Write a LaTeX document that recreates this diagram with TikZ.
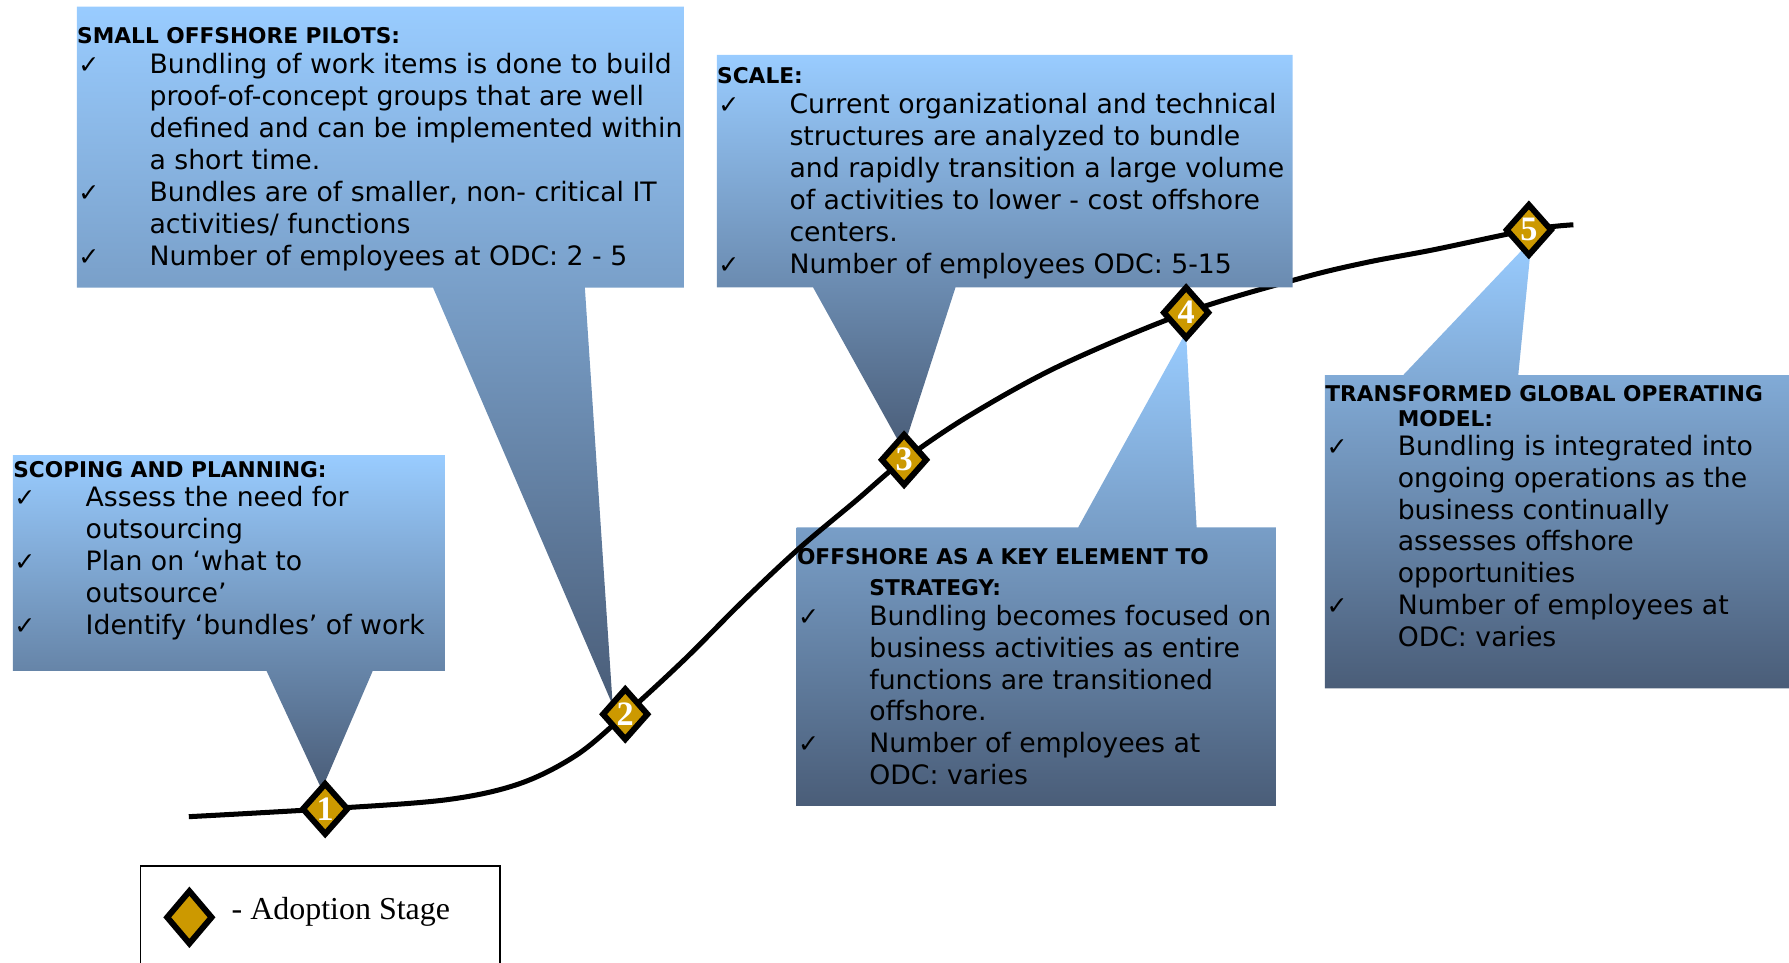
\documentclass[tikz,border=0pt]{standalone}
\usepackage{fontspec}
\setmainfont{DejaVu Sans}
\newfontfamily\numfont{Liberation Serif}
\usetikzlibrary{shapes.geometric}
\definecolor{lightb}{HTML}{99CCFF}
\definecolor{darkb}{HTML}{4A5D78}
\definecolor{goldd}{HTML}{CC9900}
\newlength\myind \setlength\myind{31.7pt}
\newcommand\bodyfnt{\fontsize{11.7}{14}\selectfont}
\newcommand\hdfnt{\fontsize{9.5}{11}\selectfont\bfseries}
\newcommand\myhdA[1]{\hbox{\hdfnt #1}}
\newcommand\myhdB[1]{\hbox{\hspace*{\myind}\hdfnt #1}}
\newcommand\myck[1]{\hbox{\makebox[\myind][l]{\hspace*{0.5pt}{\fontsize{11}{11}\selectfont ✓}}#1}}
\newcommand\myin[1]{\hbox{\hspace*{\myind}#1}}
\newcommand\mybs[1]{\baselineskip=#1pt\relax}
\tikzset{
  callout/.style={top color=lightb, bottom color=darkb},
  boxtext/.style={anchor=base west, inner sep=0pt, font=\bodyfnt},
  stg/.style={shape=diamond, draw=black, line width=2.6pt, fill=goldd,
    minimum width=20.5pt, minimum height=23pt, inner sep=0pt, text=white,
    font=\numfont\bfseries\fontsize{15}{15}\selectfont, line join=miter},
  curve/.style={line width=2.2pt}
}
\begin{document}
\begin{tikzpicture}[x=0.5pt,y=-0.5pt]
\useasboundingbox (0,0) rectangle (1568,844);
% stage positions
\coordinate (p1) at (285,709);
\coordinate (p2) at (548,626);
\coordinate (p3) at (792.4,403);
\coordinate (p4) at (1039.6,274);
\coordinate (p5) at (1340,201.5);
\coordinate (cs) at (165.5,715.8);
\coordinate (ce) at (1379,197);
% callout behind the curve
\shade[callout] (698.2,462.2) -- (945,462.2) -- (1039.5,291) -- (1048.8,462.2) -- (1118.9,462.2) -- (1118.9,706.4) -- (698.2,706.4) -- cycle;
% curve
\draw[curve] plot[smooth, tension=0.55] coordinates {(cs) (p1) (391,701) (455,687) (505,662) (p2) (600,578) (650,528) (700,481) (750,439) (p3) (850,364) (930,320) (p4) (1139.4,244) (1197.8,230) (1256,219) (p5) (ce)};
% other callouts
\shade[callout] (67.3,5.8) -- (600,5.8) -- (600,252) -- (512.6,252) -- (537,618) -- (379.5,252) -- (67.3,252) -- cycle;
\shade[callout] (11.3,398.8) -- (390,398.8) -- (390,588) -- (326.7,588) -- (282,692) -- (233.6,588) -- (11.3,588) -- cycle;
\shade[callout] (628.2,48.2) -- (1133,48.2) -- (1133,251.8) -- (837.5,251.8) -- (791.5,394) -- (712.6,251.8) -- (628.2,251.8) -- cycle;
\shade[callout] (1161.3,328.7) -- (1229.9,328.7) -- (1342.4,210.3) -- (1330.7,328.7) -- (1580,328.7) -- (1580,603.3) -- (1161.3,603.3) -- cycle;
% texts
\node[boxtext] (t1) at (67.3,38.5) {\vtop{\lineskiplimit=-100pt
  \myhdA{SMALL OFFSHORE PILOTS:}\mybs{12.95}%
  \myck{Bundling of work items is done to build}\mybs{14}%
  \myin{proof-of-concept groups that are well}%
  \myin{defined and can be implemented within}%
  \myin{a short time.}%
  \myck{Bundles are of smaller, non- critical IT}%
  \myin{activities/ functions}%
  \myck{Number of employees at ODC: 2 - 5}}};
\node[boxtext] (t0) at (11.3,418.3) {\vtop{\lineskiplimit=-100pt
  \myhdA{SCOPING AND PLANNING:}\mybs{12.9}%
  \myck{Assess the need for}\mybs{14}%
  \myin{outsourcing}%
  \myck{Plan on ‘what to}%
  \myin{outsource’}%
  \myck{Identify ‘bundles’ of work}}};
\node[boxtext] (t2) at (628.2,73.6) {\vtop{\lineskiplimit=-100pt
  \myhdA{SCALE:}\mybs{12.9}%
  \myck{Current organizational and technical}\mybs{14}%
  \myin{structures are analyzed to bundle}%
  \myin{and rapidly transition a large volume}%
  \myin{of activities to lower - cost offshore}%
  \myin{centers.}%
  \myck{Number of employees ODC: 5-15}}};
\node[boxtext] (t3) at (698.2,495.2) {\vtop{\lineskiplimit=-100pt
  \myhdA{OFFSHORE AS A KEY ELEMENT TO}\mybs{13.5}%
  \myhdB{STRATEGY:}\mybs{12.85}%
  \myck{Bundling becomes focused on}\mybs{14}%
  \myin{business activities as entire}%
  \myin{functions are transitioned}%
  \myin{offshore.}%
  \myck{Number of employees at}%
  \myin{ODC: varies}}};
\node[boxtext] (t4) at (1161.3,351.5) {\vtop{\lineskiplimit=-100pt
  \myhdA{TRANSFORMED GLOBAL OPERATING}\mybs{11.2}%
  \myhdB{MODEL:}\mybs{12.5}%
  \myck{Bundling is integrated into}\mybs{14}%
  \myin{ongoing operations as the}%
  \myin{business continually}%
  \myin{assesses offshore}%
  \myin{opportunities}%
  \myck{Number of employees at}%
  \myin{ODC: varies}}};
% stage diamonds
\node[stg] (d1) at (p1) {1};
\node[stg] (d2) at (p2) {2};
\node[stg] (d3) at (p3) {3};
\node[stg] (d4) at (p4) {4};
\node[stg] (d5) at (p5) {5};
% legend
\draw[line width=0.7pt] (123.3,759) rectangle (438.3,870);
\node[stg, minimum height=24pt] (legd) at (166,804) {};
\node[anchor=base west, inner sep=0pt, font=\numfont\fontsize{14}{14}\selectfont] (legt) at (202.7,806.3) {- Adoption Stage};
\end{tikzpicture}
\end{document}
